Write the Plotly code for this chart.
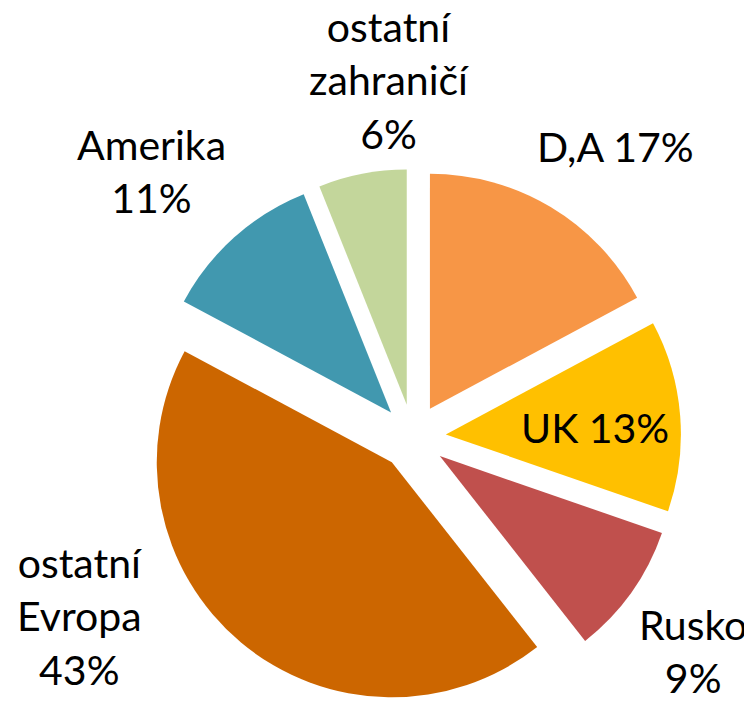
import plotly.graph_objects as go

W, H = 752, 703

# Data
labels = ["D,A", "UK", "Rusko", "ostatní Evropa", "Amerika", "ostatní zahraničí"]
values = [17, 13, 9, 43, 11, 6]
label_text = ["D,A 17%", "UK 13%", "Rusko<br>9%", "ostatní<br>Evropa<br>43%",
              "Amerika<br>11%", "ostatní<br>zahraničí<br>6%"]
colors = ["#F79646", "#FFC000", "#C0504D", "#CC6600", "#4198AF", "#C3D69B"]

# label centres in pixels (layout)
label_px = [(607, 138), (587, 419), (685, 643), (71, 608), (143, 163), (381, 72)]

fig = go.Figure(go.Pie(
    labels=labels,
    values=values,
    sort=False,
    direction="clockwise",
    rotation=0,
    pull=[0.14] * len(values),
    marker=dict(colors=colors, line=dict(width=0)),
    textinfo="none",
    hoverinfo="label+percent",
    showlegend=False,
    domain=dict(x=[137 / W, 673 / W], y=[6 / H, 542 / H]),
))

for txt, (px, py) in zip(label_text, label_px):
    fig.add_annotation(
        x=px / W, y=1 - py / H, xref="paper", yref="paper",
        text=txt, showarrow=False, xanchor="center", yanchor="middle",
        align="center",
        font=dict(family="Lato", size=41, color="#000000"),
    )

fig.update_layout(
    width=W, height=H,
    margin=dict(l=0, r=0, t=0, b=0),
    paper_bgcolor="white",
    plot_bgcolor="white",
)

fig.write_html("out.html")
